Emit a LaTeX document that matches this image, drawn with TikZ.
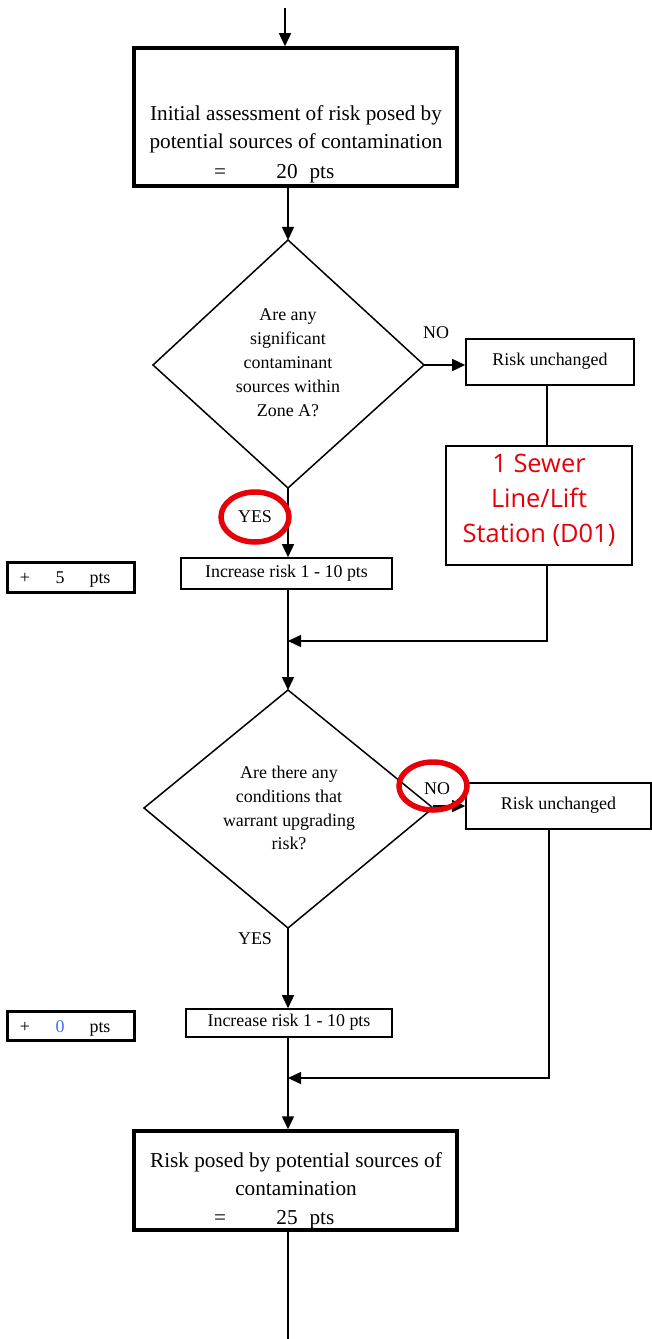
\documentclass[tikz,border=0pt]{standalone}
\usepackage{fontspec}
\setmainfont{Liberation Serif}
\newfontfamily\redfont{Open Sans}
\usetikzlibrary{arrows.meta}
\definecolor{markred}{RGB}{230,0,10}
\definecolor{ptblue}{RGB}{60,110,240}
\begin{document}
\begin{tikzpicture}[x=1bp,y=-1bp,
  line/.style={line width=1.5bp},
  arr/.style={line width=1.5bp,-{Triangle[length=13bp,width=12bp]}},
  thickbox/.style={draw,line width=3.5bp,inner sep=0pt},
  thinbox/.style={draw,line width=1.6bp,inner sep=0pt},
  bigtxt/.style={font=\fontsize{21.3}{28}\selectfont,align=center,inner sep=0pt},
  bigbase/.style={font=\fontsize{21.3}{28}\selectfont,inner sep=0pt,anchor=base},
  qtxt/.style={font=\fontsize{18}{24}\selectfont,align=center,inner sep=0pt},
  smtxt/.style={font=\fontsize{18}{22}\selectfont,inner sep=0pt},
  smbase/.style={font=\fontsize{18}{22}\selectfont,inner sep=0pt,anchor=base},
  redtxt/.style={font=\redfont\fontsize{25.5}{35}\selectfont,text=markred,align=center,inner sep=0pt},
  ring/.style={draw=markred,line width=5.5bp}]
\useasboundingbox (0,0) rectangle (652,1339);

% top box
\coordinate (in) at (285,8);
\node[thickbox,minimum width=323bp,minimum height=138bp] (b1) at (295.5,117) {};
\node[bigtxt] (t1) at (296,129) {Initial assessment of risk posed by\\potential sources of contamination};
\node[bigbase] (eq1) at (220,179) {=};
\node[bigbase] (v1) at (287,179) {20};
\node[bigbase] (p1) at (322,179) {pts};
\draw[arr] (in) -- (in |- b1.north);

% diamond 1
\coordinate (d1t) at (288,240);
\coordinate (d1r) at (424,365);
\coordinate (d1b) at (288,488);
\coordinate (d1l) at (153,365);
\draw[line,line join=miter] (d1t) -- (d1r) -- (d1b) -- (d1l) -- cycle;
\node[qtxt] (q1) at (288,363) {Are any\\significant\\contaminant\\sources within\\Zone A?};
\draw[arr] (d1t |- b1.south) -- (d1t);

% NO branch 1
\node[smtxt] (no1) at (436,333) {NO};
\node[thinbox,minimum width=168bp,minimum height=46bp] (ru1) at (550,362) {};
\node[smtxt] (ru1t) at (550,361) {Risk unchanged};
\draw[arr] (d1r) -- (d1r -| ru1.west);
\node[thinbox,minimum width=186bp,minimum height=119bp] (red) at (539,505.5) {};
\node[redtxt] (redt) at (539,500) {1 Sewer\\Line/Lift\\Station (D01)};
\coordinate (c1) at (547,0);
\draw[line] (c1 |- ru1.south) -- (c1 |- red.north);
\coordinate (m1) at (288,641);
\draw[arr] (c1 |- red.south) |- (m1);

% YES branch 1
\node[thinbox,minimum width=211bp,minimum height=31bp] (inc1) at (286.5,573.5) {};
\node[smtxt] (inc1t) at (286.5,573) {Increase risk 1 - 10 pts};
\draw[arr] (d1b) -- (d1b |- inc1.north);
\draw[ring] (255,517) ellipse [x radius=34, y radius=25];
\node[smtxt] (yes1) at (255,517) {YES};
\node[thickbox,line width=3bp,minimum width=126bp,minimum height=30bp] (pl1) at (71,577) {};
\node[smbase] (pl1a) at (25,583) {+};
\node[smbase] (pl1b) at (60,583) {5};
\node[smbase] (pl1c) at (100,583) {pts};

% diamond 2
\coordinate (d2t) at (288,690);
\coordinate (d2r) at (433,808);
\coordinate (d2b) at (288,928);
\coordinate (d2l) at (144,808);
\draw[line,line join=miter] (d2t) -- (d2r) -- (d2b) -- (d2l) -- cycle;
\node[qtxt] (q2) at (289,808) {Are there any\\conditions that\\warrant upgrading\\risk?};
\draw[arr] (d2t |- inc1.south) -- (d2t);

% NO branch 2
\node[thinbox,minimum width=185bp,minimum height=46bp] (ru2) at (558.5,806) {};
\node[smtxt] (ru2t) at (558.5,805) {Risk unchanged};
\draw[arr] (433,806) -- (ru2.west);
\node[smtxt] (no2) at (437,789) {NO};
\draw[ring] (433,786) ellipse [x radius=34, y radius=24];
\coordinate (c2) at (549,0);
\coordinate (m2) at (288,1078);
\draw[arr] (c2 |- ru2.south) |- (m2);

% YES branch 2
\node[smtxt] (yes2) at (255,939) {YES};
\node[thinbox,minimum width=206bp,minimum height=28bp] (inc2) at (289,1023) {};
\node[smtxt] (inc2t) at (289,1022.5) {Increase risk 1 - 10 pts};
\draw[arr] (d2b) -- (d2b |- inc2.north);
\node[thickbox,line width=3bp,minimum width=126bp,minimum height=29bp] (pl2) at (71,1025.5) {};
\node[smbase] (pl2a) at (25,1032) {+};
\node[smbase,text=ptblue] (pl2b) at (60,1032) {0};
\node[smbase] (pl2c) at (100,1032) {pts};

% final box
\node[thickbox,minimum width=323bp,minimum height=99bp] (b2) at (295.5,1180.5) {};
\node[bigtxt] (t2) at (296,1174) {Risk posed by potential sources of\\contamination};
\node[bigbase] (eq2) at (220,1224) {=};
\node[bigbase] (v2) at (287,1224) {25};
\node[bigbase] (p2) at (322,1224) {pts};
\draw[arr] (d2b |- inc2.south) -- (d2b |- b2.north);
\coordinate (out) at (288,1339);
\draw[line] (out |- b2.south) -- (out);
\end{tikzpicture}
\end{document}
